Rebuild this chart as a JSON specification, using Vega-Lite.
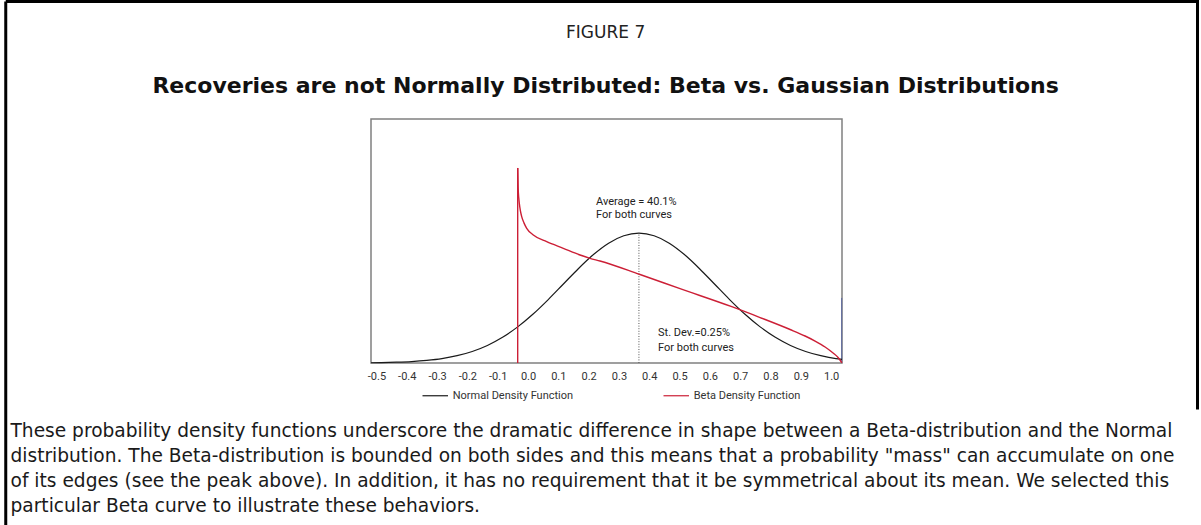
{
  "$schema": "https://vega.github.io/schema/vega-lite/v6.json",
  "width": 1191.75,
  "height": 523.5,
  "autosize": {"type": "none"},
  "padding": {"left": 5.75, "top": 1.5, "right": 3.5, "bottom": 0},
  "background": "white",
  "config": {
    "view": {"stroke": "#000000", "strokeWidth": 3, "strokeDash": [1599.75, 1307.25, 523.5, 0]},
    "font": "DejaVu Sans"
  },
  "title": {
    "text": "FIGURE 7",
    "subtitle": "Recoveries are not Normally Distributed: Beta vs. Gaussian Distributions",
    "anchor": "middle",
    "frame": "group",
    "orient": "top",
    "offset": -96,
    "dx": 4,
    "font": "DejaVu Sans",
    "fontSize": 17,
    "fontWeight": "normal",
    "color": "#222222",
    "subtitleFont": "DejaVu Sans",
    "subtitleFontSize": 22,
    "subtitleFontWeight": "bold",
    "subtitleColor": "#111111",
    "subtitlePadding": 34
  },
  "datasets": {
    "normal": [
      {"series": "Normal Density Function", "x": -0.518, "y": 0.003},
      {"series": "Normal Density Function", "x": -0.484, "y": 0.005},
      {"series": "Normal Density Function", "x": -0.434, "y": 0.010},
      {"series": "Normal Density Function", "x": -0.384, "y": 0.018},
      {"series": "Normal Density Function", "x": -0.334, "y": 0.032},
      {"series": "Normal Density Function", "x": -0.284, "y": 0.054},
      {"series": "Normal Density Function", "x": -0.234, "y": 0.090},
      {"series": "Normal Density Function", "x": -0.184, "y": 0.142},
      {"series": "Normal Density Function", "x": -0.134, "y": 0.216},
      {"series": "Normal Density Function", "x": -0.084, "y": 0.316},
      {"series": "Normal Density Function", "x": -0.034, "y": 0.444},
      {"series": "Normal Density Function", "x": 0.016, "y": 0.599},
      {"series": "Normal Density Function", "x": 0.066, "y": 0.777},
      {"series": "Normal Density Function", "x": 0.116, "y": 0.968},
      {"series": "Normal Density Function", "x": 0.166, "y": 1.159},
      {"series": "Normal Density Function", "x": 0.216, "y": 1.333},
      {"series": "Normal Density Function", "x": 0.266, "y": 1.473},
      {"series": "Normal Density Function", "x": 0.316, "y": 1.564},
      {"series": "Normal Density Function", "x": 0.366, "y": 1.596},
      {"series": "Normal Density Function", "x": 0.416, "y": 1.564},
      {"series": "Normal Density Function", "x": 0.466, "y": 1.473},
      {"series": "Normal Density Function", "x": 0.516, "y": 1.333},
      {"series": "Normal Density Function", "x": 0.566, "y": 1.159},
      {"series": "Normal Density Function", "x": 0.616, "y": 0.968},
      {"series": "Normal Density Function", "x": 0.666, "y": 0.777},
      {"series": "Normal Density Function", "x": 0.716, "y": 0.599},
      {"series": "Normal Density Function", "x": 0.766, "y": 0.444},
      {"series": "Normal Density Function", "x": 0.816, "y": 0.316},
      {"series": "Normal Density Function", "x": 0.866, "y": 0.216},
      {"series": "Normal Density Function", "x": 0.916, "y": 0.142},
      {"series": "Normal Density Function", "x": 0.966, "y": 0.090},
      {"series": "Normal Density Function", "x": 1.016, "y": 0.054},
      {"series": "Normal Density Function", "x": 1.036, "y": 0.045}
    ],
    "beta": [
      {"series": "Beta Density Function", "x": -0.034, "y": 2.398},
      {"series": "Beta Density Function", "x": -0.0325, "y": 2.15},
      {"series": "Beta Density Function", "x": -0.0305, "y": 2.03},
      {"series": "Beta Density Function", "x": -0.0287, "y": 1.964},
      {"series": "Beta Density Function", "x": -0.025, "y": 1.87},
      {"series": "Beta Density Function", "x": -0.0208, "y": 1.799},
      {"series": "Beta Density Function", "x": -0.013, "y": 1.72},
      {"series": "Beta Density Function", "x": -0.0043, "y": 1.656},
      {"series": "Beta Density Function", "x": 0.0175, "y": 1.574},
      {"series": "Beta Density Function", "x": 0.0617, "y": 1.491},
      {"series": "Beta Density Function", "x": 0.1165, "y": 1.41},
      {"series": "Beta Density Function", "x": 0.1716, "y": 1.328},
      {"series": "Beta Density Function", "x": 0.2046, "y": 1.287},
      {"series": "Beta Density Function", "x": 0.2376, "y": 1.254},
      {"series": "Beta Density Function", "x": 0.3673, "y": 1.091},
      {"series": "Beta Density Function", "x": 0.5017, "y": 0.914},
      {"series": "Beta Density Function", "x": 0.6723, "y": 0.692},
      {"series": "Beta Density Function", "x": 0.7657, "y": 0.559},
      {"series": "Beta Density Function", "x": 0.8647, "y": 0.412},
      {"series": "Beta Density Function", "x": 0.9142, "y": 0.332},
      {"series": "Beta Density Function", "x": 0.9472, "y": 0.27},
      {"series": "Beta Density Function", "x": 0.9802, "y": 0.197},
      {"series": "Beta Density Function", "x": 1.0066, "y": 0.123},
      {"series": "Beta Density Function", "x": 1.0231, "y": 0.068},
      {"series": "Beta Density Function", "x": 1.0355, "y": 0.003}
    ],
    "frame": [{"x": -0.518, "x2": 1.036, "y": 0, "y2": 3.0}],
    "betaEdge": [{"x": -0.034, "y": 0, "y2": 2.398}],
    "meanLine": [{"x": 0.366, "y": 0, "y2": 1.596}],
    "rightEdge": [{"x": 1.035, "y": 0, "y2": 0.8}],
    "notes": [
      {"x": 0.2244, "y": 1.98, "label": "Average = 40.1%"},
      {"x": 0.2244, "y": 1.814, "label": "For both curves"},
      {"x": 0.429, "y": 0.369, "label": "St. Dev.=0.25%"},
      {"x": 0.429, "y": 0.184, "label": "For both curves"}
    ]
  },
  "encoding": {
    "x": {
      "field": "x",
      "type": "quantitative",
      "scale": {"domain": [-0.518, 1.036], "range": [365.25, 836.25], "nice": false, "zero": false},
      "axis": {
        "orient": "bottom",
        "offset": -162,
        "values": [-0.5, -0.4, -0.3, -0.2, -0.1, 0, 0.1, 0.2, 0.3, 0.4, 0.5, 0.6, 0.7, 0.8, 0.9, 1.0],
        "labelExpr": "datum.value < 0 ? '-' + format(-datum.value, '.1f') : format(datum.value, '.1f')",
        "labelFont": "Roboto",
        "labelFontSize": 11,
        "labelColor": "#333333",
        "labelPadding": 7.5,
        "labelFlush": false,
        "labelOverlap": false,
        "ticks": false,
        "tickSize": 0,
        "domain": false,
        "grid": false,
        "title": [
          "These probability density functions underscore the dramatic difference in shape between a Beta-distribution and the Normal",
          "distribution. The Beta-distribution is bounded on both sides and this means that a probability \"mass\" can accumulate on one",
          "of its edges (see the peak above). In addition, it has no requirement that it be symmetrical about its mean. We selected this",
          "particular Beta curve to illustrate these behaviors."
        ],
        "titleFont": "DejaVu Sans",
        "titleFontSize": 18.6,
        "titleFontWeight": "normal",
        "titleColor": "#1a1a1a",
        "titleAlign": "left",
        "titleAnchor": "start",
        "titleBaseline": "alphabetic",
        "titleX": 4.25,
        "titleY": 73,
        "titleLineHeight": 25
      }
    },
    "y": {
      "field": "y",
      "type": "quantitative",
      "scale": {"domain": [0, 3.0], "range": [361.5, 117.5], "nice": false, "zero": true},
      "axis": null
    }
  },
  "layer": [
    {
      "data": {"name": "frame"},
      "mark": {"type": "rect", "fill": null, "stroke": "#808080", "strokeWidth": 1.5},
      "encoding": {"x2": {"field": "x2"}, "y2": {"field": "y2"}}
    },
    {
      "data": {"name": "rightEdge"},
      "mark": {"type": "rule", "color": "#5a68a0", "strokeWidth": 1},
      "encoding": {"y2": {"field": "y2"}}
    },
    {
      "data": {"name": "meanLine"},
      "mark": {"type": "rule", "color": "#555555", "strokeWidth": 1, "strokeDash": [1, 1.6]},
      "encoding": {"y2": {"field": "y2"}}
    },
    {
      "data": {"name": "normal"},
      "mark": {"type": "line", "interpolate": "monotone", "strokeWidth": 1.2},
      "encoding": {
        "color": {
          "field": "series",
          "type": "nominal",
          "scale": {"domain": ["Normal Density Function", "Beta Density Function"], "range": ["#1a1a1a", "#cc1f36"]},
          "legend": {
            "orient": "none",
            "legendX": 416,
            "legendY": 380.5,
            "direction": "horizontal",
            "title": null,
            "symbolType": "stroke",
            "symbolSize": 650,
            "symbolStrokeWidth": 1.2,
            "labelFont": "Roboto",
            "labelFontSize": 11,
            "labelColor": "#333333",
            "labelOffset": 4,
            "columnPadding": 87,
            "padding": 0
          }
        }
      }
    },
    {
      "data": {"name": "betaEdge"},
      "mark": {"type": "rule", "color": "#cc1f36", "strokeWidth": 1.4},
      "encoding": {"y2": {"field": "y2"}}
    },
    {
      "data": {"name": "beta"},
      "mark": {"type": "line", "interpolate": "monotone", "strokeWidth": 1.4},
      "encoding": {
        "color": {
          "field": "series",
          "type": "nominal",
          "scale": {"domain": ["Normal Density Function", "Beta Density Function"], "range": ["#1a1a1a", "#cc1f36"]},
          "legend": {
            "orient": "none",
            "legendX": 416,
            "legendY": 380.5,
            "direction": "horizontal",
            "title": null,
            "symbolType": "stroke",
            "symbolSize": 650,
            "symbolStrokeWidth": 1.2,
            "labelFont": "Roboto",
            "labelFontSize": 11,
            "labelColor": "#333333",
            "labelOffset": 4,
            "columnPadding": 87,
            "padding": 0
          }
        }
      }
    },
    {
      "data": {"name": "notes"},
      "mark": {"type": "text", "align": "left", "baseline": "middle", "font": "Roboto", "fontSize": 11, "color": "#222222"},
      "encoding": {"text": {"field": "label"}}
    }
  ]
}
